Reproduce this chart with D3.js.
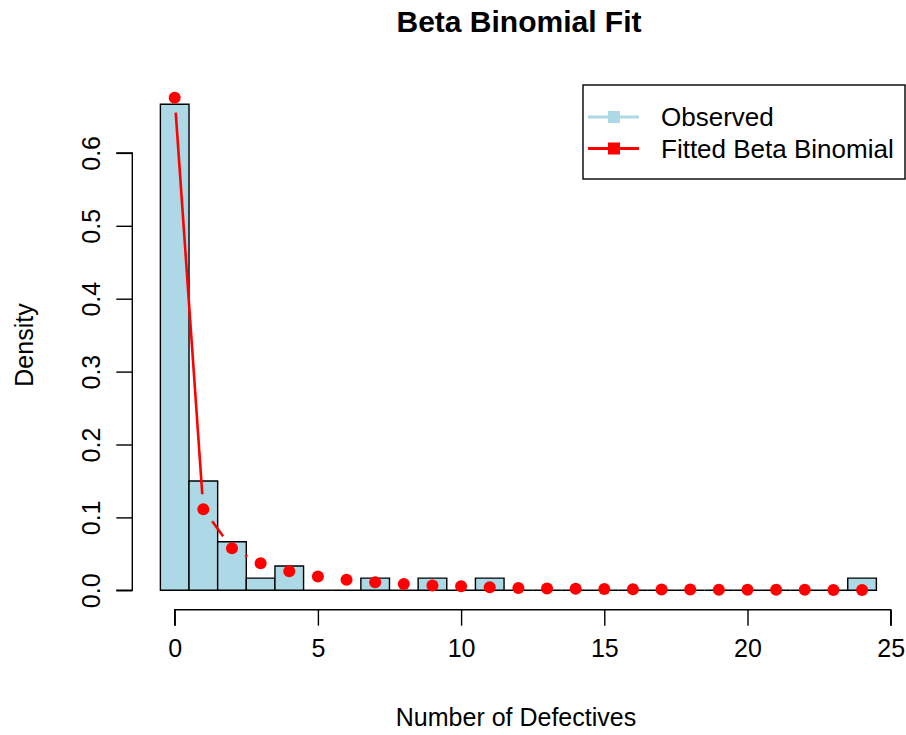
<!DOCTYPE html>
<html>
<head>
<meta charset="utf-8">
<script src="https://cdn.jsdelivr.net/npm/d3@7"></script>
<style>
  html, body { margin: 0; padding: 0; background: #fff; }
  text { font-family: "Liberation Sans", Arial, sans-serif; fill: #000; }
</style>
</head>
<body>
<svg id="chart" width="906" height="735"></svg>
<script>
// ---- data ----
const defectives = d3.range(0, 25);            // 0..24
const observedDensity = [0.6667, 0.1500, 0.0667, 0.0167, 0.0333, 0, 0, 0.0167, 0, 0.0167, 0, 0.0167,
                         0, 0, 0, 0, 0, 0, 0, 0, 0, 0, 0, 0, 0.0167];
const fittedDensity = [0.6757, 0.1112, 0.0576, 0.0370, 0.0262, 0.0190, 0.0144, 0.0110, 0.0086, 0.0066,
                       0.0054, 0.0041, 0.0032, 0.0024, 0.0020, 0.0017, 0.0014, 0.0012, 0.0010, 0.0009,
                       0.0008, 0.0007, 0.0006, 0.0005, 0.0004];
const xTicks = [0, 5, 10, 15, 20, 25];
const yTicks = [0, 0.1, 0.2, 0.3, 0.4, 0.5, 0.6];
const legendLabels = ["Observed", "Fitted Beta Binomial"];
const legendColors = ["#ADD8E6", "#FF0000"];

// ---- scales ----
const x = d3.scaleLinear().domain([0, 25]).range([174.7, 890.7]);
const y = d3.scaleLinear().domain([0, 0.6]).range([590.3, 152.9]);

const svg = d3.select("#chart");

// bars (drawn as closed paths so zero-height bins still show their outline)
svg.append("g").selectAll("path").data(defectives).join("path")
  .attr("d", d => {
    const x0 = x(d - 0.5), x1 = x(d + 0.5), y0 = y(0), y1 = y(observedDensity[d]);
    return `M${x0},${y0}V${y1}H${x1}V${y0}Z`;
  })
  .attr("fill", "#ADD8E6")
  .attr("stroke", "#000")
  .attr("stroke-width", 1.4);

// fitted line (type "b": segments with gaps around points)
const gap = 15;
const pts = defectives.map(d => [x(d), y(fittedDensity[d])]);
const segs = [];
for (let i = 0; i < pts.length - 1; i++) {
  const [x0, y0] = pts[i], [x1, y1] = pts[i + 1];
  const L = Math.hypot(x1 - x0, y1 - y0);
  if (L > 2 * gap) {
    const ux = (x1 - x0) / L, uy = (y1 - y0) / L;
    segs.push([x0 + ux * gap, y0 + uy * gap, x1 - ux * gap, y1 - uy * gap]);
  }
}
svg.append("g").selectAll("line").data(segs).join("line")
  .attr("x1", s => s[0]).attr("y1", s => s[1])
  .attr("x2", s => s[2]).attr("y2", s => s[3])
  .attr("stroke", "#FF0000").attr("stroke-width", 2.6);

svg.append("g").selectAll("circle").data(defectives).join("circle")
  .attr("cx", d => x(d))
  .attr("cy", d => y(fittedDensity[d]))
  .attr("r", 6)
  .attr("fill", "#FF0000");

// x axis
const xAxis = d3.axisBottom(x).tickValues(xTicks).tickSize(16).tickFormat(d3.format("d"));
const gx = svg.append("g").attr("transform", "translate(0,609.7)").call(xAxis);
gx.select(".domain").attr("d", `M${x(0)},16V0H${x(25)}V16`).attr("stroke-width", 1.4);
gx.selectAll(".tick line").attr("stroke-width", 1.4);
gx.selectAll(".tick text").attr("font-size", 25).attr("font-family", "Liberation Sans, Arial, sans-serif")
  .attr("dy", "0.71em").attr("y", 30);

// y axis
const yAxis = d3.axisLeft(y).tickValues(yTicks).tickSize(16).tickFormat(d3.format(".1f"));
const gy = svg.append("g").attr("transform", "translate(132.3,0)").call(yAxis);
gy.select(".domain").attr("d", `M-16,${y(0.6)}H0V${y(0)}H-16`).attr("stroke-width", 1.4);
gy.selectAll(".tick line").attr("stroke-width", 1.4);
gy.selectAll(".tick text")
  .attr("font-size", 25).attr("font-family", "Liberation Sans, Arial, sans-serif")
  .attr("x", null).attr("dy", null)
  .attr("text-anchor", "middle")
  .attr("transform", "translate(-32,0) rotate(-90)");

// titles
svg.append("text").attr("x", 519).attr("y", 32).attr("text-anchor", "middle")
  .attr("font-size", 30).attr("font-weight", "bold").text("Beta Binomial Fit");
svg.append("text").attr("x", 516).attr("y", 726).attr("text-anchor", "middle")
  .attr("font-size", 25).text("Number of Defectives");
svg.append("text").attr("transform", "translate(33,345) rotate(-90)").attr("text-anchor", "middle")
  .attr("font-size", 25).text("Density");

// legend
const lg = svg.append("g");
lg.append("rect").attr("x", 583).attr("y", 85).attr("width", 322).attr("height", 94)
  .attr("fill", "#fff").attr("stroke", "#000").attr("stroke-width", 1.4);
const items = lg.selectAll("g.item").data(legendLabels).join("g").attr("class", "item")
  .attr("transform", (d, i) => `translate(0,${117 + i * 31.5})`);
items.append("line").attr("x1", 588).attr("x2", 639).attr("y1", 0).attr("y2", 0)
  .attr("stroke", (d, i) => legendColors[i]).attr("stroke-width", 2.8);
items.append("rect").attr("x", 608).attr("y", -6).attr("width", 12).attr("height", 12)
  .attr("fill", (d, i) => legendColors[i]);
items.append("text").attr("x", 661).attr("y", 0).attr("dy", "0.35em")
  .attr("font-size", 26).text(d => d);
</script>
</body>
</html>
